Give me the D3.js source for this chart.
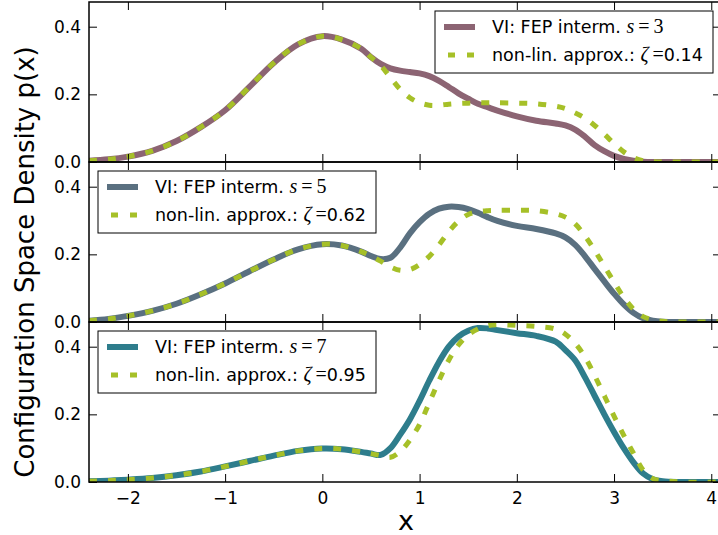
<!DOCTYPE html>
<html>
<head>
<meta charset="utf-8">
<script src="https://cdn.jsdelivr.net/npm/d3@7"></script>
<style>
body { margin: 0; background: #fff; }
text { font-family: "DejaVu Sans", sans-serif; }
</style>
</head>
<body>
<div id="chart"></div>
<script>
// sample positions along x, shared by all curves
var xs = [-2.4, -2.2, -2.0, -1.75, -1.5, -1.25, -1.0, -0.75, -0.5, -0.25, 0, 0.2, 0.4, 0.5, 0.6, 0.7, 0.8, 0.9,
          1.0, 1.1, 1.2, 1.3, 1.4, 1.5, 1.6, 1.7, 1.8, 2.0, 2.2, 2.4, 2.5, 2.6, 2.7, 2.8, 2.9, 3.0, 3.1, 3.2,
          3.3, 3.4, 3.5, 3.7, 4.1];

// VI: FEP interm. s=3 / non-lin. approx. zeta=0.14
var vi_s3 = [0.004, 0.008, 0.016, 0.033, 0.062, 0.103, 0.153, 0.222, 0.293, 0.348, 0.372, 0.362, 0.335, 0.31, 0.29, 0.277, 0.27, 0.266,
             0.262, 0.254, 0.24, 0.222, 0.203, 0.187, 0.172, 0.162, 0.152, 0.135, 0.122, 0.114, 0.108, 0.096, 0.075, 0.05, 0.032, 0.018, 0.009, 0.004,
             0.001, 0, 0, 0, 0];
var approx_z014 = [0.004, 0.008, 0.016, 0.033, 0.062, 0.103, 0.153, 0.222, 0.293, 0.348, 0.372, 0.362, 0.335, 0.31, 0.285, 0.25, 0.215, 0.19,
             0.175, 0.168, 0.168, 0.171, 0.173, 0.174, 0.175, 0.175, 0.175, 0.174, 0.172, 0.165, 0.158, 0.145, 0.13, 0.108, 0.082, 0.055, 0.03, 0.013,
             0.004, 0.001, 0, 0, 0];

// s=5 / zeta=0.62
var vi_s5 = [0.004, 0.009, 0.018, 0.033, 0.054, 0.082, 0.114, 0.15, 0.185, 0.215, 0.23, 0.226, 0.208, 0.195, 0.186, 0.19, 0.22, 0.262,
             0.295, 0.32, 0.335, 0.341, 0.34, 0.334, 0.323, 0.31, 0.299, 0.284, 0.275, 0.262, 0.25, 0.228, 0.195, 0.157, 0.12, 0.084, 0.052, 0.027,
             0.011, 0.004, 0.001, 0, 0];
var approx_z062 = [0.004, 0.009, 0.018, 0.033, 0.054, 0.082, 0.114, 0.15, 0.185, 0.215, 0.23, 0.226, 0.208, 0.195, 0.18, 0.163, 0.153, 0.155,
             0.17, 0.194, 0.228, 0.267, 0.298, 0.318, 0.326, 0.329, 0.33, 0.33, 0.329, 0.32, 0.31, 0.29, 0.255, 0.212, 0.165, 0.118, 0.073, 0.038,
             0.016, 0.006, 0.002, 0, 0];

// s=7 / zeta=0.95
var vi_s7 = [0.002, 0.004, 0.007, 0.012, 0.02, 0.031, 0.046, 0.062, 0.078, 0.092, 0.099, 0.097, 0.089, 0.084, 0.08, 0.1, 0.14, 0.185,
             0.24, 0.3, 0.355, 0.4, 0.43, 0.447, 0.455, 0.454, 0.449, 0.44, 0.432, 0.415, 0.39, 0.36, 0.31, 0.255, 0.2, 0.148, 0.1, 0.058,
             0.025, 0.008, 0.002, 0, 0];
var approx_z095 = [0.002, 0.004, 0.007, 0.012, 0.02, 0.031, 0.046, 0.062, 0.078, 0.092, 0.099, 0.097, 0.089, 0.084, 0.078, 0.073, 0.09, 0.124,
             0.17, 0.235, 0.3, 0.36, 0.405, 0.435, 0.452, 0.462, 0.465, 0.463, 0.46, 0.452, 0.437, 0.41, 0.37, 0.315, 0.255, 0.195, 0.138, 0.085,
             0.035, 0.01, 0.004, 0, 0];

var xTicks = [-2, -1, 0, 1, 2, 3, 4];
var yTicks = [0, 0.2, 0.4];

var panels = [
    {s: "3", zeta: "0.14", vi: vi_s3, approx: approx_z014, color: "#8c6473", legendRight: true},
    {s: "5", zeta: "0.62", vi: vi_s5, approx: approx_z062, color: "#5a7080", legendRight: false},
    {s: "7", zeta: "0.95", vi: vi_s7, approx: approx_z095, color: "#2e7d8c", legendRight: false}
];
var green = "#a6c028";

var W = 718, H = 535;
var left = 89, right = 721, top0 = 2, ph = 160;

var svg = d3.select("#chart").append("svg")
    .attr("width", W)
    .attr("height", H);

var x = d3.scaleLinear().domain([-2.4, 4.1]).range([left, right]);

panels.forEach(function (p, i) {
    var top = top0 + i * ph, bottom = top + ph;
    var y = d3.scaleLinear().domain([0, 0.473]).range([bottom, top]);
    var g = svg.append("g");

    g.append("clipPath").attr("id", "clip" + i)
        .append("rect")
        .attr("x", left).attr("y", top)
        .attr("width", right - left).attr("height", ph);

    var line = d3.line()
        .x(function (d, j) { return x(xs[j]); })
        .y(function (d) { return y(d); })
        .curve(d3.curveCatmullRom.alpha(0.5));

    g.append("path")
        .datum(p.vi)
        .attr("clip-path", "url(#clip" + i + ")")
        .attr("d", line)
        .attr("fill", "none")
        .attr("stroke", p.color)
        .attr("stroke-width", 6);

    g.append("path")
        .datum(p.approx)
        .attr("clip-path", "url(#clip" + i + ")")
        .attr("d", line)
        .attr("fill", "none")
        .attr("stroke", green)
        .attr("stroke-width", 5)
        .attr("stroke-dasharray", "8,11");

    // ticks point inward on all four sides
    g.append("g").attr("transform", "translate(0," + bottom + ")")
        .call(d3.axisBottom(x).tickValues(xTicks).tickSize(-8).tickSizeOuter(0).tickPadding(10)
            .tickFormat(i == 2 ? d3.format("") : function () { return ""; }));
    g.append("g").attr("transform", "translate(0," + top + ")")
        .call(d3.axisTop(x).tickValues(xTicks).tickSize(-8).tickSizeOuter(0).tickFormat(""));
    g.append("g").attr("transform", "translate(" + left + ",0)")
        .call(d3.axisLeft(y).tickValues(yTicks).tickSize(-8).tickSizeOuter(0).tickPadding(8).tickFormat(d3.format(".1f")));
    g.append("g").attr("transform", "translate(" + right + ",0)")
        .call(d3.axisRight(y).tickValues(yTicks).tickSize(-8).tickSizeOuter(0).tickFormat(""));

    g.selectAll(".domain").remove();
    g.selectAll(".tick line").attr("stroke", "#000").attr("stroke-width", 1);
    g.selectAll(".tick text").attr("font-size", 17).attr("fill", "#000")
        .style("font-family", "DejaVu Sans");

    g.append("rect")
        .attr("x", left).attr("y", top)
        .attr("width", right - left).attr("height", ph)
        .attr("fill", "none").attr("stroke", "#000").attr("stroke-width", 1.5);

    // legend
    var bw = 278, bh = 62;
    var bx = p.legendRight ? right - 8 - bw : left + 9;
    var by = top + 9;
    var lg = g.append("g");
    lg.append("rect")
        .attr("x", bx).attr("y", by).attr("width", bw).attr("height", bh)
        .attr("fill", "#fff").attr("stroke", "#000").attr("stroke-width", 1);
    var rows = [by + 16, by + 44];
    lg.append("line")
        .attr("x1", bx + 9).attr("x2", bx + 40)
        .attr("y1", rows[0]).attr("y2", rows[0])
        .attr("stroke", p.color).attr("stroke-width", 6);
    lg.append("line")
        .attr("x1", bx + 9).attr("x2", bx + 40)
        .attr("y1", rows[1]).attr("y2", rows[1])
        .attr("stroke", green).attr("stroke-width", 5)
        .attr("stroke-dasharray", "7,12").attr("stroke-dashoffset", -4);

    var t1 = lg.append("text").attr("x", bx + 57).attr("y", rows[0] + 6).attr("font-size", 17.5);
    t1.append("tspan").text("VI: FEP interm. ");
    t1.append("tspan").text("s").style("font-family", "Liberation Serif").style("font-style", "italic").attr("font-size", 20);
    t1.append("tspan").text("\u2009=\u2009" + p.s).style("font-family", "Liberation Serif").attr("font-size", 20);

    var t2 = lg.append("text").attr("x", bx + 57).attr("y", rows[1] + 6).attr("font-size", 17.5);
    t2.append("tspan").text("non-lin. approx.: ");
    t2.append("tspan").text("\u03b6").style("font-family", "Liberation Serif").style("font-style", "italic").attr("font-size", 20);
    t2.append("tspan").text("\u2009=").style("font-family", "Liberation Serif").attr("font-size", 20);
    t2.append("tspan").text(p.zeta);
});

svg.append("text")
    .attr("transform", "translate(34,262) rotate(-90)")
    .attr("text-anchor", "middle")
    .attr("font-size", 26)
    .text("Configuration Space Density p(x)");

svg.append("text")
    .attr("x", 406).attr("y", 530)
    .attr("text-anchor", "middle")
    .attr("font-size", 27)
    .text("x");
</script>
</body>
</html>
